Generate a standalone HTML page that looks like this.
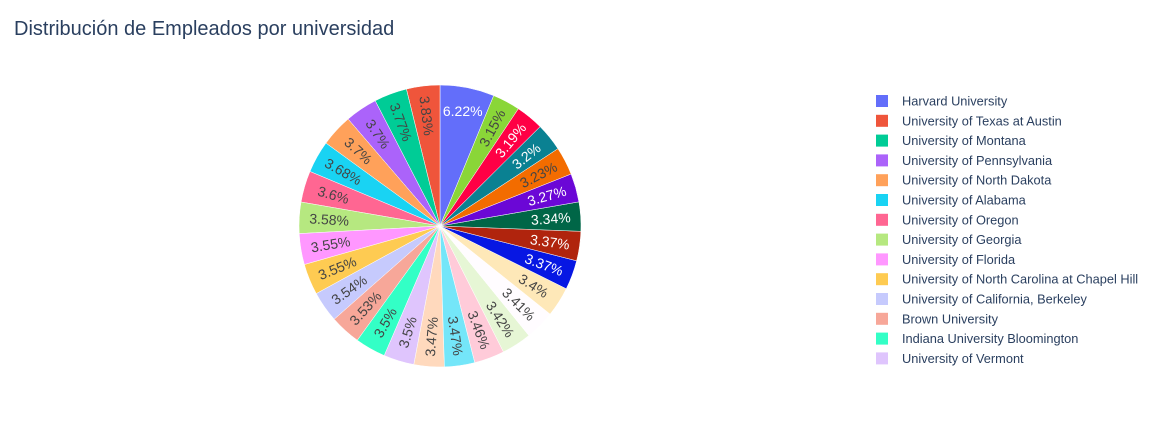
<!DOCTYPE html>
<html><head><meta charset="utf-8">
<style>
body{margin:0;background:#fff;width:1171px;height:419px;overflow:hidden;font-family:"Liberation Sans",Arial,sans-serif;}
svg text{font-family:"Liberation Sans",Arial,sans-serif;}
</style></head>
<body>
<svg id="chart" width="1171" height="419">
<text x="14" y="35" font-size="20" fill="#2a3f5f">Distribución de Empleados por universidad</text>
<g id="slices"></g>
<g id="legend"></g>
</svg>
<script>
const labels=["Harvard University","University of Texas at Austin","University of Montana","University of Pennsylvania","University of North Dakota","University of Alabama","University of Oregon","University of Georgia","University of Florida","University of North Carolina at Chapel Hill","University of California, Berkeley","Brown University","Indiana University Bloomington","University of Vermont","Uni 15","Uni 16","Uni 17","Uni 18","Uni 19","Uni 20","Uni 21","Uni 22","Uni 23","Uni 24","Uni 25","Uni 26","Uni 27","Uni 28"];
const values=[6.22,3.83,3.77,3.7,3.7,3.68,3.6,3.58,3.55,3.55,3.54,3.53,3.5,3.5,3.47,3.47,3.46,3.42,3.41,3.4,3.37,3.37,3.34,3.27,3.23,3.2,3.19,3.15];
const colors=["#636efa","#ef553b","#00cc96","#ab63fa","#ffa15a","#19d3f3","#ff6692","#b6e880","#ff97ff","#fecb52","#c6cafd","#f7a799","#33ffc6","#dfc5fd","#ffd9bd","#74e6f9","#ffcbd9","#e6f6d5","#fffcff","#fee8b8","#0717e3","#b0240d","#006647","#6b07d6","#f36c00","#0a8192","#ff0045","#8ad638"];
const darkText=[0,20,21,22,23,25,26];
const NS="http://www.w3.org/2000/svg";
const cx=440,cy=226,R=141;
const total=values.reduce((a,b)=>a+b,0);
const sg=document.getElementById('slices');
function pt(deg,r){const a=deg*Math.PI/180;return [cx+r*Math.sin(a),cy-r*Math.cos(a)];}
let angles=[];
let a0=values[0]/total*360;
angles.push([0,a0]);
let cur=0;
for(let i=1;i<values.length;i++){const d=values[i]/total*360;angles.push([cur-d,cur]);cur-=d;}
values.forEach((v,i)=>{
  const [s,e]=angles[i];
  const p1=pt(s,R),p2=pt(e,R);
  const large=(e-s)>180?1:0;
  const path=document.createElementNS(NS,'path');
  path.setAttribute('d',`M${cx},${cy}L${p1[0]},${p1[1]}A${R},${R} 0 ${large} 1 ${p2[0]},${p2[1]}Z`);
  path.setAttribute('fill',colors[i]);
  path.setAttribute('stroke','#fff');path.setAttribute('stroke-width','0.5');
  
  
  sg.appendChild(path);
  const mid=(s+e)/2;
  const tp=pt(mid,i===0?117:111);
  let rot=mid-90;
  while(rot>90)rot-=180;
  while(rot<=-90)rot+=180;
  if(i===0)rot=0;
  const t=document.createElementNS(NS,'text');
  t.setAttribute('x',tp[0]);t.setAttribute('y',tp[1]);
  t.setAttribute('text-anchor','middle');t.setAttribute('dominant-baseline','central');
  t.setAttribute('font-size','14');
  t.setAttribute('fill',darkText.includes(i)?'#fff':'#444');
  t.setAttribute('transform',`rotate(${rot} ${tp[0]} ${tp[1]})`);
  t.textContent=(Math.round(v*100)/100)+'%';
  
  
  sg.appendChild(t);
});
const lg=document.getElementById('legend');
for(let i=0;i<14;i++){
  const y=101+i*19.8;
  const g=document.createElementNS(NS,'g');
  
  
  const r=document.createElementNS(NS,'rect');
  r.setAttribute('x',876);r.setAttribute('y',y-6);r.setAttribute('width',12);r.setAttribute('height',12);
  r.setAttribute('fill',colors[i]);
  g.appendChild(r);
  const t=document.createElementNS(NS,'text');
  t.setAttribute('x',902);t.setAttribute('y',y+4.5);t.setAttribute('font-size','12.8');t.setAttribute('fill','#2a3f5f');
  t.textContent=labels[i];
  g.appendChild(t);
  lg.appendChild(g);
}
</script>
</body></html>
